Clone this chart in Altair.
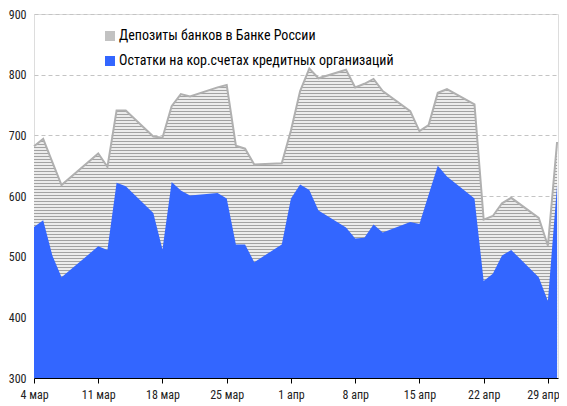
import altair as alt
import pandas as pd

# ---- data ----
dates = [
    "2014-03-04", "2014-03-05", "2014-03-06", "2014-03-07",
    "2014-03-11", "2014-03-12", "2014-03-13", "2014-03-14",
    "2014-03-17", "2014-03-18", "2014-03-19", "2014-03-20", "2014-03-21",
    "2014-03-24", "2014-03-25", "2014-03-26", "2014-03-27", "2014-03-28",
    "2014-03-31", "2014-04-01", "2014-04-02", "2014-04-03", "2014-04-04",
    "2014-04-07", "2014-04-08", "2014-04-09", "2014-04-10", "2014-04-11",
    "2014-04-14", "2014-04-15", "2014-04-16", "2014-04-17", "2014-04-18",
    "2014-04-21", "2014-04-22", "2014-04-23", "2014-04-24", "2014-04-25",
    "2014-04-28", "2014-04-29", "2014-04-30",
]
# upper edge of the grey area (correspondent accounts + deposits)
total = [
    682, 694, 656, 618,
    670, 648, 741, 741,
    698, 696, 748, 768, 764,
    779, 783, 683, 678, 652,
    654, 708, 773, 810, 794,
    808, 779, 785, 793, 773,
    740, 707, 717, 770, 776,
    751, 561, 567, 588, 597,
    564, 518, 689,
]
# correspondent account balances (blue area)
kor = [
    549, 560, 502, 466,
    517, 511, 622, 616,
    572, 512, 623, 609, 601,
    605, 596, 520, 520, 491,
    520, 596, 619, 610, 576,
    548, 530, 531, 553, 540,
    557, 554, 602, 650, 632,
    596, 460, 472, 502, 511,
    466, 427, 618,
]
series_labels = ["Депозиты банков в Банке России",
                 "Остатки на кор.счетах кредитных организаций"]
y_ticks = [300, 400, 500, 600, 700, 800, 900]
x_tick_dates = [(3, 4), (3, 11), (3, 18), (3, 25), (4, 1), (4, 8), (4, 15), (4, 22), (4, 29)]

df = pd.DataFrame({"date": [d + "T00:00:00" for d in dates], "total": total, "kor": kor})

FONT = "Roboto Condensed, Liberation Sans Narrow, Liberation Sans, Arial, sans-serif"
W, H = 524, 364
Y_MIN, Y_MAX = 300, 900

# horizontal stripe fill for the grey area (gradient with hard stops)
bbox_h = H * (max(total) - Y_MIN) / (Y_MAX - Y_MIN)
period = 3.0
n = int(bbox_h / period) + 1
stops = []
dark, light = "#a2a2a2", "#ececec"
for i in range(n):
    a = i * period / bbox_h
    b = (i * period + 1.2) / bbox_h
    c = (i + 1) * period / bbox_h
    a, b, c = min(a, 1), min(b, 1), min(c, 1)
    stops += [{"offset": a, "color": dark}, {"offset": b, "color": dark},
              {"offset": b, "color": light}, {"offset": c, "color": light}]
stripes = {"gradient": "linear", "x1": 0, "y1": 0, "x2": 0, "y2": 1, "stops": stops}

x_enc = alt.X(
    "date:T",
    title=None,
    scale=alt.Scale(domain=[alt.DateTime(year=2014, month=3, date=4),
                            alt.DateTime(year=2014, month=4, date=30, hours=2, minutes=24)]),
    axis=alt.Axis(
        values=[alt.DateTime(year=2014, month=m, date=d) for m, d in x_tick_dates],
        labelExpr="date(datum.value) + ' ' + (month(datum.value) == 2 ? 'мар' : 'апр')",
        domainColor="#000000", domainWidth=1,
        tickColor="#000000", tickSize=5, tickWidth=1,
        labelFont=FONT, labelFontSize=12, labelColor="#222222", labelPadding=6,
        labelOffset={"condition": {"test": "month(datum.value) == 3 && date(datum.value) == 29",
                                   "value": -5}, "value": 0},
        grid=False, zindex=1, labelFlush=False, labelOverlap=False,
    ),
)
y_scale = alt.Scale(domain=[Y_MIN, Y_MAX], zero=False, nice=False)
y_axis = alt.Axis(
    values=y_ticks, title=None, domain=False, ticks=False,
    labelFont=FONT, labelFontSize=12, labelColor="#222222", labelPadding=8,
    grid=True, gridColor="#c4c4c4", gridDash=[4, 3], gridWidth=1,
)

color_scale = alt.Scale(domain=series_labels, range=["#c2c2c2", "#3366ff"])
legend = alt.Legend(
    title=None, orient="none", legendX=69, legendY=15,
    symbolType="square", symbolSize=100, symbolStrokeWidth=0,
    labelFont=FONT, labelFontSize=14, labelColor="#000000", labelLimit=0,
    rowPadding=11, labelOffset=2, padding=0,
)

base = alt.Chart(df)

grey_solid = base.mark_area().encode(
    x=x_enc, y=alt.Y("total:Q", scale=y_scale, axis=y_axis), y2=alt.datum(Y_MIN),
    color=alt.Color("s:N", scale=color_scale, legend=legend),
).transform_calculate(s="'" + series_labels[0] + "'")

grey_stripes = base.mark_area(fill=stripes).encode(
    x=x_enc, y=alt.Y("total:Q", scale=y_scale), y2=alt.datum(Y_MIN),
)

grey_line = base.mark_line(color="#b0b0b0", strokeWidth=2).encode(
    x=x_enc, y=alt.Y("total:Q", scale=y_scale),
)

blue = base.mark_area().encode(
    x=x_enc, y=alt.Y("kor:Q", scale=y_scale), y2=alt.datum(Y_MIN),
    color=alt.Color("s:N", scale=color_scale, legend=legend),
).transform_calculate(s="'" + series_labels[1] + "'")

chart = alt.layer(grey_solid, grey_stripes, grey_line, blue).properties(
    width=W, height=H,
    autosize=alt.AutoSizeParams(type="none"),
    padding={"left": 26, "top": 6, "right": 1, "bottom": 25},
).configure_view(stroke=None).configure(background="#ffffff")

chart.save("out.html", embed_options={"renderer": "svg", "actions": False})
